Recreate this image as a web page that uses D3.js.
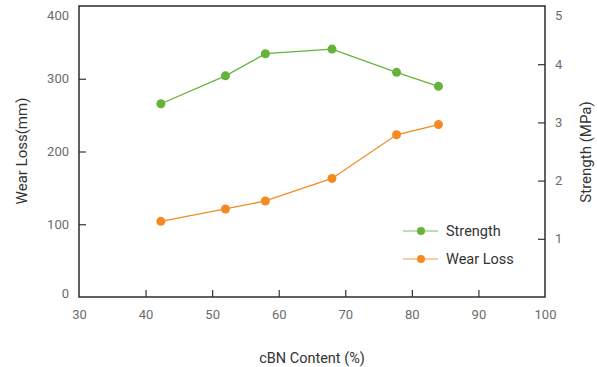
<!DOCTYPE html>
<html>
<head>
<meta charset="utf-8">
<script src="https://cdn.jsdelivr.net/npm/d3@7"></script>
<style>
  html, body { margin: 0; padding: 0; background: #fff; }
  svg { display: block; font-family: Roboto, "Noto Sans", sans-serif; }
</style>
</head>
<body>
<svg id="chart" width="597" height="367"></svg>
<script>
// cBN content (%) for each sample
const cbnContent = [42.3, 52, 58, 68, 77.7, 84];
// Compressive strength (MPa), right axis
const strength = [3.32, 3.80, 4.18, 4.26, 3.86, 3.62];
// Wear loss (mm), left axis
const wearLoss = [104, 121, 132, 163, 223, 237];

const xTicks = [30, 40, 50, 60, 70, 80, 90, 100];
const leftTicks = [0, 100, 200, 300, 400];
const rightTicks = [1, 2, 3, 4, 5];

const seriesNames = ["Strength", "Wear Loss"];
const seriesColors = ["#66b33a", "#f68a22"];
const legendLineColors = ["#a9d58f", "#f9bb85"];

const svg = d3.select("#chart");
const m = { left: 79, right: 545, top: 6, bottom: 297 };

const x = d3.scaleLinear().domain([30, 100]).range([m.left, m.right]);
const yL = d3.scaleLinear().domain([0, 400]).range([m.bottom, m.top]);
const yR = d3.scaleLinear().domain([0, 5]).range([m.bottom, m.top]);

const tickColor = "#333";
const labelColor = "#6b6b6b";

// Bottom axis: inward ticks, labels below
const gx = svg.append("g").attr("transform", `translate(0,${m.bottom})`)
  .call(d3.axisBottom(x).tickValues(xTicks).tickSize(-7).tickPadding(13).tickFormat(d3.format("d")));
gx.select(".domain").remove();
gx.selectAll(".tick line").attr("stroke", tickColor).attr("stroke-width", 1.2)
  .filter(d => d === 30 || d === 100).remove();
gx.selectAll(".tick text").attr("fill", labelColor).attr("font-size", 13).attr("font-family", "Roboto");

// Left axis
const gl = svg.append("g").attr("transform", `translate(${m.left},0)`)
  .call(d3.axisLeft(yL).tickValues(leftTicks).tickSize(-7).tickPadding(10).tickFormat(d3.format("d")));
gl.select(".domain").remove();
gl.selectAll(".tick line").attr("stroke", tickColor).attr("stroke-width", 1.2)
  .filter(d => d === 0 || d === 400).remove();
gl.selectAll(".tick text").attr("fill", labelColor).attr("font-size", 13).attr("font-family", "Roboto")
  .attr("dy", d => d === 400 ? "1.0em" : d === 0 ? "0.0em" : "0.32em");

// Right axis
const gr = svg.append("g").attr("transform", `translate(${m.right},0)`)
  .call(d3.axisRight(yR).tickValues(rightTicks).tickSize(-7).tickPadding(10).tickFormat(d3.format("d")));
gr.select(".domain").remove();
gr.selectAll(".tick line").attr("stroke", tickColor).attr("stroke-width", 1.2)
  .filter(d => d === 5).remove();
gr.selectAll(".tick text").attr("fill", labelColor).attr("font-size", 13).attr("font-family", "Roboto")
  .attr("dy", d => d === 5 ? "1.05em" : "0.32em");

// Plot frame
svg.append("rect")
  .attr("x", m.left).attr("y", m.top)
  .attr("width", m.right - m.left).attr("height", m.bottom - m.top)
  .attr("fill", "none").attr("stroke", "#2b2b2b").attr("stroke-width", 1.5);

// Axis titles
svg.append("text")
  .attr("transform", `translate(27,151) rotate(-90)`)
  .attr("text-anchor", "middle").attr("font-size", 15).attr("fill", "#333")
  .text("Wear Loss(mm)");
svg.append("text")
  .attr("transform", `translate(591,152) rotate(-90)`)
  .attr("text-anchor", "middle").attr("font-size", 15).attr("fill", "#333")
  .text("Strength (MPa)");
svg.append("text")
  .attr("x", 312).attr("y", 363)
  .attr("text-anchor", "middle").attr("font-size", 14.5).attr("fill", "#333")
  .text("cBN Content (%)");

// Series
const series = [
  { name: seriesNames[0], values: strength, y: yR, color: seriesColors[0] },
  { name: seriesNames[1], values: wearLoss, y: yL, color: seriesColors[1] }
];

series.forEach(s => {
  const pts = cbnContent.map((c, i) => [c, s.values[i]]);
  const line = d3.line().x(d => x(d[0])).y(d => s.y(d[1]));
  svg.append("path").datum(pts)
    .attr("d", line).attr("fill", "none")
    .attr("stroke", s.color).attr("stroke-width", 1.3);
  svg.append("g").selectAll("circle").data(pts).join("circle")
    .attr("cx", d => x(d[0])).attr("cy", d => s.y(d[1]))
    .attr("r", 4.5).attr("fill", s.color);
});

// Legend
const legend = svg.append("g");
seriesNames.forEach((name, i) => {
  const ly = 231 + i * 28;
  legend.append("line")
    .attr("x1", 403).attr("x2", 438).attr("y1", ly).attr("y2", ly)
    .attr("stroke", legendLineColors[i]).attr("stroke-width", 1.5);
  legend.append("circle").attr("cx", 421).attr("cy", ly).attr("r", 4).attr("fill", seriesColors[i]);
  legend.append("text")
    .attr("x", 446).attr("y", ly).attr("dy", "0.35em")
    .attr("font-size", 14.5).attr("fill", "#333")
    .text(name);
});
</script>
</body>
</html>
